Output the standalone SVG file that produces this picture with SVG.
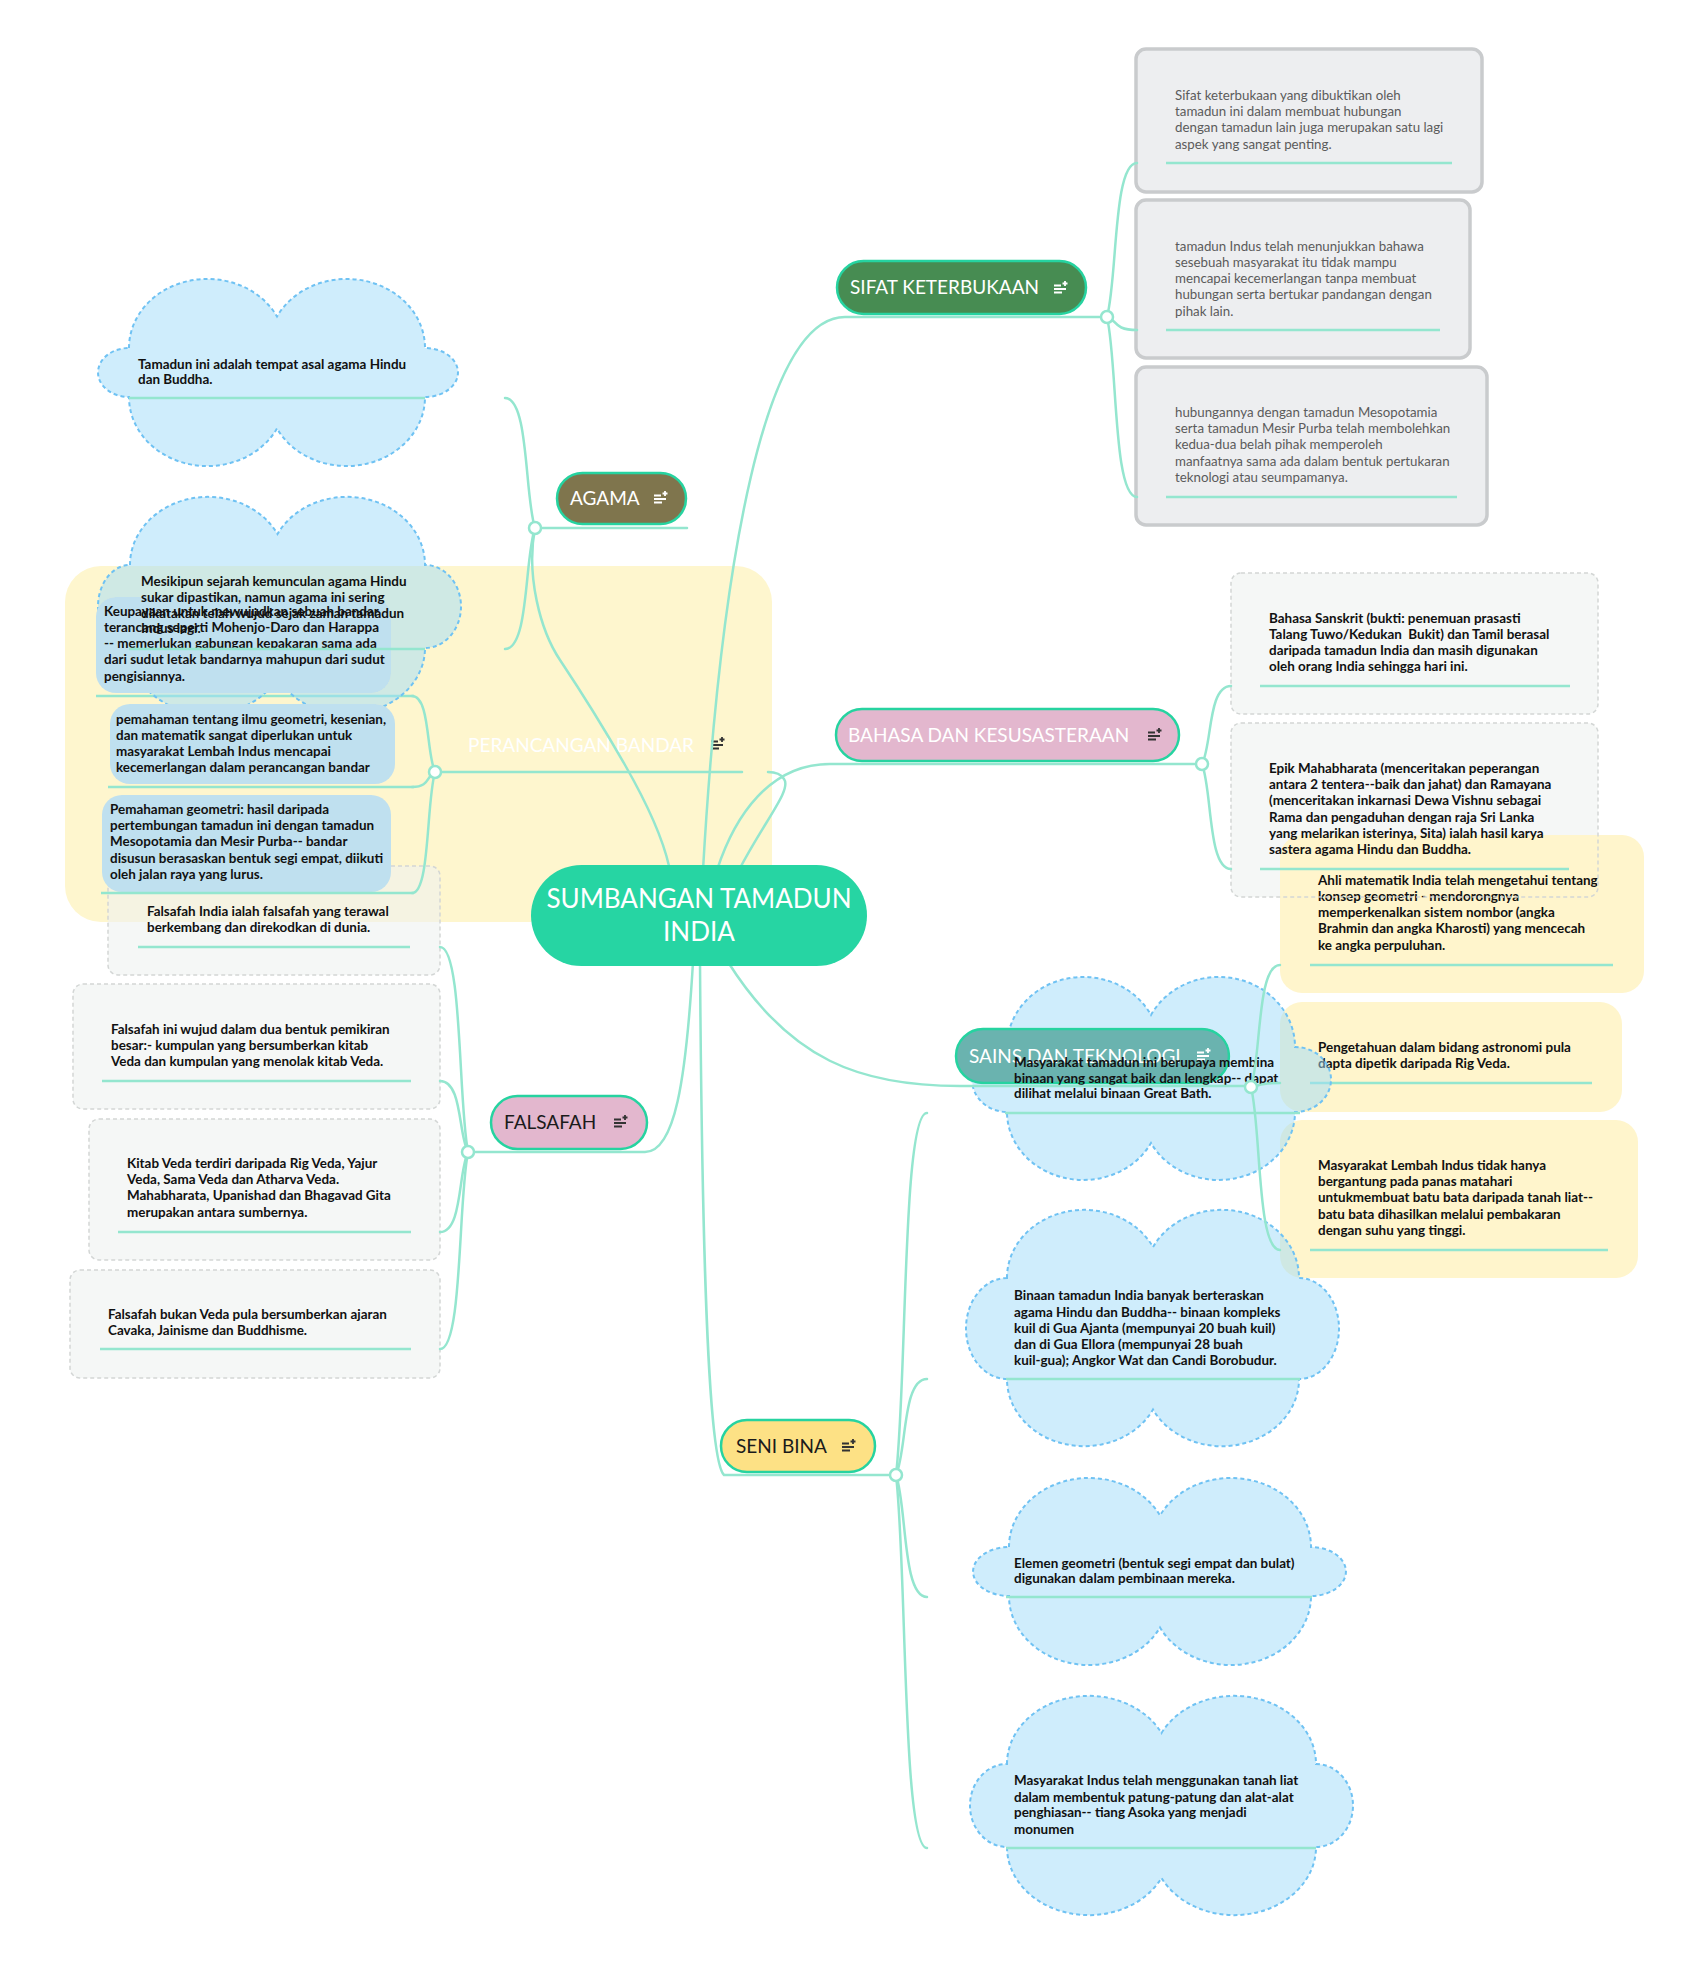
<svg xmlns="http://www.w3.org/2000/svg" width="1693" height="1977" viewBox="0 0 1693 1977">
<defs>
<style>
text{font-family:Lato,"Noto Sans","Liberation Sans",sans-serif}
.t{font-size:19px;fill:#fff}
.td{font-size:19px;fill:#1b1b1b}
.n{font-size:13.45px;font-weight:700;fill:#111}
.s{font-size:13.3px;fill:#5b5b5b}
.c{fill:none;stroke:#94E6CF;stroke-width:2.5;stroke-linecap:round}
.u{stroke:#94E6CF;stroke-width:2.5}
.dot{fill:#fff;stroke:#94E6CF;stroke-width:2.5}
.nd{stroke:#26D3A0;stroke-width:2.5}
.cl{fill:#9FDCFA;fill-opacity:.5;stroke:#6FC2F3;stroke-width:2;stroke-dasharray:4 3}
.gb{fill:#EEF2F0;fill-opacity:.6;stroke:#D3D6D5;stroke-width:1.5;stroke-dasharray:4 3}
.sb{fill:#EDEEF0;stroke:#C9CBCD;stroke-width:3.5}
.yb{fill:#FFF5CC}
.pb{fill:#BFE0EF}
.ic{fill:none;stroke-width:1.8}
</style>
<path id="ic" d="M0,4.5h7M0,8h12M0,11.5h8M8.5,2.5h5M11,0v5"/>
<clipPath id="clipY1"><path clip-rule="evenodd" d="M0,0H1693V1977H0Z M1302,835 H1622 A22,22 0 0 1 1644,857 V971 A22,22 0 0 1 1622,993 H1302 A22,22 0 0 1 1280,971 V857 A22,22 0 0 1 1302,835 Z"/></clipPath>
<clipPath id="clipP"><path clip-rule="evenodd" d="M0,0H1693V1977H0Z M116,597 H371 A20,20 0 0 1 391,617 V673 A20,20 0 0 1 371,693 H116 A20,20 0 0 1 96,673 V617 A20,20 0 0 1 116,597 Z M130,704 H375 A20,20 0 0 1 395,724 V764 A20,20 0 0 1 375,784 H130 A20,20 0 0 1 110,764 V724 A20,20 0 0 1 130,704 Z"/></clipPath>
<clipPath id="clipS"><path clip-rule="evenodd" d="M0,0H1693V1977H0Z M983,1027.75 H1202 A28.25,28.25 0 0 1 1202,1084.25 H983 A28.25,28.25 0 0 1 983,1027.75 Z"/></clipPath>
</defs>
<rect width="1693" height="1977" fill="#fff"/>

<g id="perancangan-bandar">
<rect x="65" y="566" width="707" height="356" rx="36" fill="#FEF6CE"/>
<text class="t" x="468" y="752">PERANCANGAN BANDAR</text>
<use href="#ic" x="711" y="737" class="ic" stroke="#333"/>
</g>

<g id="sains-1">
<rect class="yb" x="1280" y="835" width="364" height="158" rx="22"/>
<text class="n" x="1318" y="885">Ahli matematik India telah mengetahui tentang</text>
<text class="n" x="1318" y="901">konsep geometri - mendorongnya</text>
<text class="n" x="1318" y="917">memperkenalkan sistem nombor (angka</text>
<text class="n" x="1318" y="933">Brahmin dan angka Kharosti) yang mencecah</text>
<text class="n" x="1318" y="950">ke angka perpuluhan.</text>
<line class="u" x1="1310" y1="965" x2="1613" y2="965"/>
</g>
<g id="sains-2">
<rect class="yb" x="1280" y="1002" width="342" height="110" rx="22"/>
<text class="n" x="1318" y="1052">Pengetahuan dalam bidang astronomi pula</text>
<text class="n" x="1318" y="1068">dapta dipetik daripada Rig Veda.</text>
<line class="u" x1="1310" y1="1083" x2="1592" y2="1083"/>
</g>
<g id="sains-3">
<rect class="yb" x="1280" y="1120" width="358" height="158" rx="22"/>
<text class="n" x="1318" y="1170">Masyarakat Lembah Indus tidak hanya</text>
<text class="n" x="1318" y="1186">bergantung pada panas matahari</text>
<text class="n" x="1318" y="1202">untukmembuat batu bata daripada tanah liat--</text>
<text class="n" x="1318" y="1219">batu bata dihasilkan melalui pembakaran</text>
<text class="n" x="1318" y="1235">dengan suhu yang tinggi.</text>
<line class="u" x1="1310" y1="1250" x2="1608" y2="1250"/>
</g>

<g id="falsafah-1">
<rect class="gb" x="108" y="866" width="332" height="109" rx="10"/>
<text class="n" x="147" y="916">Falsafah India ialah falsafah yang terawal</text>
<text class="n" x="147" y="932">berkembang dan direkodkan di dunia.</text>
<line class="u" x1="138" y1="947" x2="410" y2="947"/>
</g>
<g id="falsafah-2">
<rect class="gb" x="73" y="984" width="367" height="125" rx="10"/>
<text class="n" x="111" y="1034">Falsafah ini wujud dalam dua bentuk pemikiran</text>
<text class="n" x="111" y="1050">besar:- kumpulan yang bersumberkan kitab</text>
<text class="n" x="111" y="1066">Veda dan kumpulan yang menolak kitab Veda.</text>
<line class="u" x1="102" y1="1081" x2="411" y2="1081"/>
</g>
<g id="falsafah-3">
<rect class="gb" x="89" y="1119" width="351" height="141" rx="10"/>
<text class="n" x="127" y="1168">Kitab Veda terdiri daripada Rig Veda, Yajur</text>
<text class="n" x="127" y="1184">Veda, Sama Veda dan Atharva Veda.</text>
<text class="n" x="127" y="1200">Mahabharata, Upanishad dan Bhagavad Gita</text>
<text class="n" x="127" y="1217">merupakan antara sumbernya.</text>
<line class="u" x1="118" y1="1232" x2="411" y2="1232"/>
</g>
<g id="falsafah-4">
<rect class="gb" x="70" y="1270" width="370" height="108" rx="10"/>
<text class="n" x="108" y="1319">Falsafah bukan Veda pula bersumberkan ajaran</text>
<text class="n" x="108" y="1335">Cavaka, Jainisme dan Buddhisme.</text>
<line class="u" x1="100" y1="1349" x2="411" y2="1349"/>
</g>

<g id="bahasa-1">
<rect class="gb" x="1231" y="573" width="367" height="141" rx="10"/>
<text class="n" x="1269" y="623">Bahasa Sanskrit (bukti: penemuan prasasti</text>
<text class="n" x="1269" y="639" style="white-space:pre">Talang Tuwo/Kedukan  Bukit) dan Tamil berasal</text>
<text class="n" x="1269" y="655">daripada tamadun India dan masih digunakan</text>
<text class="n" x="1269" y="671">oleh orang India sehingga hari ini.</text>
<line class="u" x1="1260" y1="686" x2="1570" y2="686"/>
</g>
<g id="bahasa-2">
<rect class="gb" x="1231" y="723" width="367" height="174" rx="10" style="stroke:none" clip-path="url(#clipY1)"/>
<rect class="gb" x="1231" y="723" width="367" height="174" rx="10" style="fill:none"/>
<text class="n" x="1269" y="773">Epik Mahabharata (menceritakan peperangan</text>
<text class="n" x="1269" y="789">antara 2 tentera--baik dan jahat) dan Ramayana</text>
<text class="n" x="1269" y="805">(menceritakan inkarnasi Dewa Vishnu sebagai</text>
<text class="n" x="1269" y="822">Rama dan pengaduhan dengan raja Sri Lanka</text>
<text class="n" x="1269" y="838">yang melarikan isterinya, Sita) ialah hasil karya</text>
<text class="n" x="1269" y="854">sastera agama Hindu dan Buddha.</text>
<line class="u" x1="1260" y1="869" x2="1569" y2="869"/>
</g>

<g id="sifat-1">
<rect class="sb" x="1136" y="49" width="346" height="143" rx="10"/>
<text class="s" x="1175" y="100">Sifat keterbukaan yang dibuktikan oleh</text>
<text class="s" x="1175" y="116">tamadun ini dalam membuat hubungan</text>
<text class="s" x="1175" y="132">dengan tamadun lain juga merupakan satu lagi</text>
<text class="s" x="1175" y="149">aspek yang sangat penting.</text>
<line class="u" x1="1166" y1="163" x2="1452" y2="163"/>
</g>
<g id="sifat-2">
<rect class="sb" x="1136" y="200" width="334" height="158" rx="10"/>
<text class="s" x="1175" y="251">tamadun Indus telah menunjukkan bahawa</text>
<text class="s" x="1175" y="267">sesebuah masyarakat itu tidak mampu</text>
<text class="s" x="1175" y="283">mencapai kecemerlangan tanpa membuat</text>
<text class="s" x="1175" y="299">hubungan serta bertukar pandangan dengan</text>
<text class="s" x="1175" y="316">pihak lain.</text>
<line class="u" x1="1166" y1="330" x2="1440" y2="330"/>
</g>
<g id="sifat-3">
<rect class="sb" x="1136" y="367" width="351" height="158" rx="10"/>
<text class="s" x="1175" y="417">hubungannya dengan tamadun Mesopotamia</text>
<text class="s" x="1175" y="433">serta tamadun Mesir Purba telah membolehkan</text>
<text class="s" x="1175" y="449">kedua-dua belah pihak memperoleh</text>
<text class="s" x="1175" y="466">manfaatnya sama ada dalam bentuk pertukaran</text>
<text class="s" x="1175" y="482">teknologi atau seumpamanya.</text>
<line class="u" x1="1166" y1="497" x2="1457" y2="497"/>
</g>

<g id="perancangan-1">
<rect class="pb" x="96" y="597" width="295" height="96" rx="20"/>
<text class="n" x="104" y="616">Keupayaan untuk mewujudkan sebuah bandar</text>
<text class="n" x="104" y="632">terancang seperti Mohenjo-Daro dan Harappa</text>
<text class="n" x="104" y="648">-- memerlukan gabungan kepakaran sama ada</text>
<text class="n" x="104" y="664">dari sudut letak bandarnya mahupun dari sudut</text>
<text class="n" x="104" y="681">pengisiannya.</text>
<line class="u" x1="96" y1="696" x2="414" y2="696"/>
</g>
<g id="perancangan-2">
<rect class="pb" x="110" y="704" width="285" height="80" rx="20"/>
<text class="n" x="116" y="724">pemahaman tentang ilmu geometri, kesenian,</text>
<text class="n" x="116" y="740">dan matematik sangat diperlukan untuk</text>
<text class="n" x="116" y="756">masyarakat Lembah Indus mencapai</text>
<text class="n" x="116" y="772">kecemerlangan dalam perancangan bandar</text>
<line class="u" x1="108" y1="787" x2="414" y2="787"/>
</g>
<g id="perancangan-3">
<rect class="pb" x="102" y="795" width="289" height="97" rx="20"/>
<text class="n" x="110" y="814">Pemahaman geometri: hasil daripada</text>
<text class="n" x="110" y="830">pertembungan tamadun ini dengan tamadun</text>
<text class="n" x="110" y="846">Mesopotamia dan Mesir Purba-- bandar</text>
<text class="n" x="110" y="863">disusun berasaskan bentuk segi empat, diikuti</text>
<text class="n" x="110" y="879">oleh jalan raya yang lurus.</text>
<line class="u" x1="101" y1="893" x2="414" y2="893"/>
</g>

<g id="agama-1">
<path class="cl" d="M129,348 A78.3,69 0 0 1 277,316.5 A78.3,69 0 0 1 425,348 A33,24.5 0 0 1 425,397 A78.3,69 0 0 1 277,428.5 A78.3,69 0 0 1 129,397 A31,24.5 0 0 1 129,348 Z"/>
<text class="n" x="138" y="369">Tamadun ini adalah tempat asal agama Hindu</text>
<text class="n" x="138" y="384">dan Buddha.</text>
<line class="u" x1="129" y1="398" x2="425" y2="398"/>
</g>
<g id="agama-2">
<path class="cl" clip-path="url(#clipP)" d="M130,565 A78,68 0 0 1 277.5,534 A78,68 0 0 1 425,565 A36,41.5 0 0 1 425,648 A78,66 0 0 1 277.5,678 A78,66 0 0 1 130,648 A32,41.5 0 0 1 130,565 Z"/>
<text class="n" x="141" y="586">Mesikipun sejarah kemunculan agama Hindu</text>
<text class="n" x="141" y="602">sukar dipastikan, namun agama ini sering</text>
<text class="n" x="141" y="618">dikatakan telah wujud sejak zaman tamadun</text>
<text class="n" x="141" y="633">Indus lagi.</text>
<line class="u" x1="129" y1="649" x2="425" y2="649"/>
</g>

<g id="seni-bina-2">
<path class="cl" d="M1007,1278 A77.2,68 0 0 1 1153,1247 A77.2,68 0 0 1 1299,1278 A40,50.5 0 0 1 1299,1379 A77.2,67 0 0 1 1153,1409.6 A77.2,67 0 0 1 1007,1379 A41,50.5 0 0 1 1007,1278 Z"/>
<text class="n" x="1014" y="1300">Binaan tamadun India banyak berteraskan</text>
<text class="n" x="1014" y="1317">agama Hindu dan Buddha-- binaan kompleks</text>
<text class="n" x="1014" y="1333">kuil di Gua Ajanta (mempunyai 20 buah kuil)</text>
<text class="n" x="1014" y="1349">dan di Gua Ellora (mempunyai 28 buah</text>
<text class="n" x="1014" y="1365">kuil-gua); Angkor Wat dan Candi Borobudur.</text>
<line class="u" x1="1006" y1="1379" x2="1300" y2="1379"/>
</g>
<g id="seni-bina-3">
<path class="cl" d="M1009,1547 A79.9,69 0 0 1 1160,1515.5 A79.9,69 0 0 1 1311,1547 A35,24.5 0 0 1 1311,1596 A79.9,69 0 0 1 1160,1627.5 A79.9,69 0 0 1 1009,1596 A36,24.5 0 0 1 1009,1547 Z"/>
<text class="n" x="1014" y="1568">Elemen geometri (bentuk segi empat dan bulat)</text>
<text class="n" x="1014" y="1583">digunakan dalam pembinaan mereka.</text>
<line class="u" x1="1006" y1="1597" x2="1312" y2="1597"/>
</g>
<g id="seni-bina-4">
<path class="cl" d="M1007,1764 A81.7,68 0 0 1 1161.5,1733 A81.7,68 0 0 1 1316,1764 A37,41.5 0 0 1 1316,1847 A81.7,68 0 0 1 1161.5,1878 A81.7,68 0 0 1 1007,1847 A37,41.5 0 0 1 1007,1764 Z"/>
<text class="n" x="1014" y="1785">Masyarakat Indus telah menggunakan tanah liat</text>
<text class="n" x="1014" y="1802">dalam membentuk patung-patung dan alat-alat</text>
<text class="n" x="1014" y="1817">penghiasan-- tiang Asoka yang menjadi</text>
<text class="n" x="1014" y="1834">monumen</text>
<line class="u" x1="1006" y1="1848" x2="1316" y2="1848"/>
</g>

<g id="sifat-keterbukaan">
<rect class="nd" x="837" y="261" width="249" height="53" rx="26.5" fill="#478C52"/>
<text class="t" x="850" y="294">SIFAT KETERBUKAAN</text>
<use href="#ic" x="1054" y="281" class="ic" stroke="#fff"/>
</g>
<g id="agama">
<rect class="nd" x="557" y="473" width="129" height="51" rx="25.5" fill="#7F754D"/>
<text class="t" x="570" y="505">AGAMA</text>
<use href="#ic" x="654" y="491" class="ic" stroke="#fff"/>
</g>
<g id="bahasa">
<rect class="nd" x="836" y="709" width="343" height="52" rx="26" fill="#E3B7CE"/>
<text class="t" x="848" y="742">BAHASA DAN KESUSASTERAAN</text>
<use href="#ic" x="1148" y="728" class="ic" stroke="#333"/>
</g>
<g id="sains">
<rect class="nd" x="956" y="1029" width="273" height="54" rx="27" fill="#6AB3AF"/>
<text class="t" x="969" y="1063">SAINS DAN TEKNOLOGI</text>
<use href="#ic" x="1197" y="1048" class="ic" stroke="#fff"/>
</g>
<g id="falsafah">
<rect class="nd" x="491" y="1096" width="156" height="53" rx="26.5" fill="#E3B7CE"/>
<text class="td" x="504" y="1129">FALSAFAH</text>
<use href="#ic" x="614" y="1115" class="ic" stroke="#333"/>
</g>
<g id="seni-bina">
<rect class="nd" x="721" y="1420" width="154" height="52" rx="26" fill="#FDE185"/>
<text class="td" x="736" y="1453">SENI BINA</text>
<use href="#ic" x="842" y="1439" class="ic" stroke="#333"/>
</g>

<g id="seni-bina-1">
<path class="cl" clip-path="url(#clipS)" d="M1007,1047 A76.2,70 0 0 1 1151,1015 A76.2,70 0 0 1 1295,1047 A36,32.5 0 0 1 1295,1112 A76.2,68 0 0 1 1151,1143 A76.2,68 0 0 1 1007,1112 A35,32.5 0 0 1 1007,1047 Z"/>
<text class="n" x="1014" y="1067">Masyarakat tamadun ini berupaya membina</text>
<text class="n" x="1014" y="1083">binaan yang sangat baik dan lengkap-- dapat</text>
<text class="n" x="1014" y="1098">dilihat melalui binaan Great Bath.</text>
<line class="u" x1="1005" y1="1113" x2="1300" y2="1113"/>
</g>

<g id="connectors">
<path class="c" d="M703,870 C721,560 765,317 845,317 L1101,317"/>
<path class="c" d="M717,870 C735,815 770,764 830,764 L1196,764"/>
<path class="c" d="M739,870 C765,820 792,790 784,779 C781,774 776,772 768,772"/>
<path class="c" d="M441,772 L742,772"/>
<path class="c" d="M669,866 C662,835 645,800 625,765 S580,690 560,660 S526,575 535,528"/>
<path class="c" d="M541,528 L687,528"/>
<path class="c" d="M728,962 C790,1060 860,1086 960,1086 L1245,1086"/>
<path class="c" d="M700,962 C702,1250 708,1460 724,1475 L890,1475"/>
<path class="c" d="M693,962 C686,1080 675,1152 645,1152 L474,1152"/>

<path class="c" d="M1107,317 C1117.5,278.5 1113,163 1137,163"/>
<path class="c" d="M1107,317 C1117.5,320 1113,330 1137,330"/>
<path class="c" d="M1107,317 C1117.5,362 1113,497 1137,497"/>

<path class="c" d="M1202,764 C1212.2,744.5 1207.8,686 1231,686"/>
<path class="c" d="M1202,764 C1212.2,790.3 1207.8,869 1231,869"/>

<path class="c" d="M1251,1087 C1261.2,1056.5 1256.8,965 1280,965"/>
<path class="c" d="M1251,1087 C1261.2,1086 1256.8,1083 1280,1083"/>
<path class="c" d="M1251,1087 C1261.2,1127.8 1256.8,1250 1280,1250"/>

<path class="c" d="M896,1475 C906.9,1384.5 902.2,1113 927,1113"/>
<path class="c" d="M896,1475 C906.9,1451 902.2,1379 927,1379"/>
<path class="c" d="M896,1475 C906.9,1505.5 902.2,1597 927,1597"/>
<path class="c" d="M896,1475 C906.9,1568.3 902.2,1848 927,1848"/>

<path class="c" d="M468,1152 C458.2,1100.8 462.4,947 440,947"/>
<path class="c" d="M468,1152 C458.2,1134.3 462.4,1081 440,1081"/>
<path class="c" d="M468,1152 C458.2,1172 462.4,1232 440,1232"/>
<path class="c" d="M468,1152 C458.2,1201.3 462.4,1349 440,1349"/>

<path class="c" d="M535,528 C524.5,495.5 529,398 505,398"/>
<path class="c" d="M535,528 C524.5,558.3 529,649 505,649"/>

<path class="c" d="M435,772 C426.3,753 430,696 412,696"/>
<path class="c" d="M435,772 C426.3,775.8 430,787 412,787"/>
<path class="c" d="M435,772 C426.3,802.3 430,893 412,893"/>

<circle class="dot" cx="1107" cy="317" r="6"/>
<circle class="dot" cx="535" cy="528" r="6"/>
<circle class="dot" cx="435" cy="772" r="6"/>
<circle class="dot" cx="1202" cy="764" r="6"/>
<circle class="dot" cx="1251" cy="1087" r="6"/>
<circle class="dot" cx="468" cy="1152" r="6"/>
<circle class="dot" cx="896" cy="1475" r="6"/>
</g>

<g id="center">
<rect x="531" y="865" width="336" height="101" rx="50.5" fill="#26D5A3"/>
<text x="699" y="908" text-anchor="middle" font-size="26" fill="#fff">SUMBANGAN TAMADUN</text>
<text x="699" y="941" text-anchor="middle" font-size="26" fill="#fff">INDIA</text>
</g>
</svg>
